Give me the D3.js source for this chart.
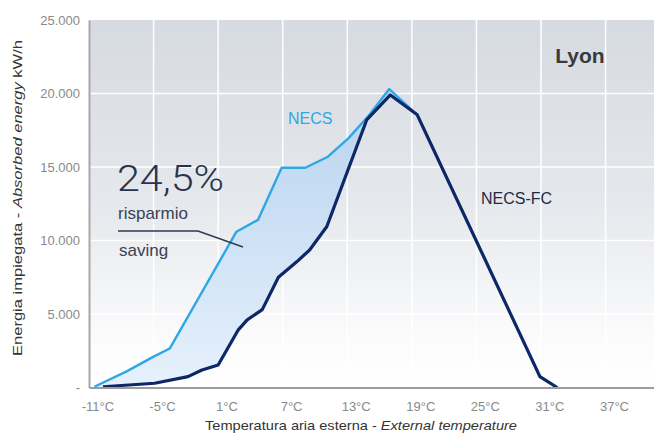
<!DOCTYPE html>
<html>
<head>
<meta charset="utf-8">
<script src="https://cdn.jsdelivr.net/npm/d3@7"></script>
<style>
  html, body { margin: 0; padding: 0; background: #fff; }
  svg { display: block; font-family: "Liberation Sans", Arial, sans-serif; }
</style>
</head>
<body>
<svg id="chart" width="654" height="434"></svg>
<script>
// Outdoor temperature (°C) and absorbed energy (kWh) for each unit
const tempNECS = [-11, -8, -5.5, -4, 2.2, 4.2, 6.4, 8.6, 10.7, 12.6, 14.5, 16.4, 19, 30.4, 32];
const valNECS  = [50, 1100, 2100, 2650, 10600, 11400, 14950, 14950, 15700, 16950, 18500, 20300, 18550, 740, 0];

const tempFC = [-10.2, -5.4, -2.3, -1, 0.5, 2.35, 3.2, 4.6, 6.1, 7.8, 9, 10.6, 14.3, 16.5, 19, 30.4, 32];
const valFC  = [50, 290, 740, 1190, 1530, 3900, 4600, 5300, 7500, 8550, 9350, 10950, 18200, 19900, 18550, 740, 0];

const xTicks = [-11, -5, 1, 7, 13, 19, 25, 31, 37];
const yTicks = [0, 5000, 10000, 15000, 20000, 25000];
const savingLabel = "24,5%";

const svg = d3.select("#chart");
const pLeft = 89, pRight = 654, pTop = 20, pBottom = 387.5;

const x = d3.scaleLinear().domain([-11.5, 41]).range([pLeft, pRight]);
const y = d3.scaleLinear().domain([0, 25000]).range([pBottom, pTop]);

const defs = svg.append("defs");
const bg = defs.append("linearGradient").attr("id", "bg")
  .attr("x1", 0).attr("y1", 0).attr("x2", 0).attr("y2", 1);
bg.append("stop").attr("offset", "0%").attr("stop-color", "#d6dae1");
bg.append("stop").attr("offset", "50%").attr("stop-color", "#e5e8ec");
bg.append("stop").attr("offset", "86%").attr("stop-color", "#fbfbfc");
bg.append("stop").attr("offset", "100%").attr("stop-color", "#ffffff");

const fillGrad = defs.append("linearGradient").attr("id", "gap")
  .attr("gradientUnits", "userSpaceOnUse")
  .attr("x1", 0).attr("y1", y(20000)).attr("x2", 0).attr("y2", y(0));
fillGrad.append("stop").attr("offset", "0%").attr("stop-color", "#b8d3ef");
fillGrad.append("stop").attr("offset", "100%").attr("stop-color", "#e6f1fc");

// plot background
svg.append("rect")
  .attr("x", pLeft).attr("y", pTop)
  .attr("width", pRight - pLeft).attr("height", pBottom - pTop)
  .attr("fill", "url(#bg)");

// grid
const grid = svg.append("g").attr("stroke", "#ffffff").attr("stroke-width", 1.5);
grid.selectAll("line.h").data(yTicks.filter(d => d > 0 && d < 25000)).join("line")
  .attr("class", "h")
  .attr("x1", pLeft).attr("x2", pRight)
  .attr("y1", d => y(d)).attr("y2", d => y(d));
grid.selectAll("line.v").data(xTicks.slice(1)).join("line")
  .attr("class", "v")
  .attr("x1", d => x(d - 0.5)).attr("x2", d => x(d - 0.5))
  .attr("y1", pTop).attr("y2", pBottom);

// shaded saving area between the two curves (up to the peak)
const peakN = valNECS.indexOf(d3.max(valNECS));
const peakF = valFC.indexOf(d3.max(valFC));
const upper = tempNECS.slice(0, peakN + 1).map((t, i) => [t, valNECS[i]]);
const lower = tempFC.slice(0, peakF + 1).map((t, i) => [t, valFC[i]]).reverse();
const line = d3.line().x(d => x(d[0])).y(d => y(d[1]));
svg.append("path")
  .attr("d", line(upper.concat(lower)) + "Z")
  .attr("fill", "url(#gap)");

// series
svg.append("path")
  .attr("d", line(tempNECS.map((t, i) => [t, valNECS[i]])))
  .attr("fill", "none").attr("stroke", "#2fa6e6").attr("stroke-width", 2.4)
  .attr("stroke-linejoin", "round");
svg.append("path")
  .attr("d", line(tempFC.map((t, i) => [t, valFC[i]])))
  .attr("fill", "none").attr("stroke", "#0e2766").attr("stroke-width", 3.2)
  .attr("stroke-linejoin", "round");

// axes
const it = d3.formatLocale({ decimal: ",", thousands: ".", grouping: [3], currency: ["", ""] });
const fmt = it.format(",");

const yAxis = svg.append("g").attr("transform", `translate(${pLeft},0)`)
  .call(d3.axisLeft(y).tickValues(yTicks).tickSize(0).tickPadding(9)
    .tickFormat(d => d === 0 ? "-" : fmt(d)));
yAxis.select(".domain").attr("stroke", "#a8a8a8").attr("stroke-width", 2);
yAxis.selectAll("text").attr("fill", "#8a8a8a").attr("font-size", 13).style("font-family", "Liberation Sans, Arial, sans-serif");

const xAxis = svg.append("g").attr("transform", `translate(0,${pBottom})`)
  .call(d3.axisBottom(x).tickValues(xTicks).tickSize(0).tickPadding(14)
    .tickFormat(d => d + "°C"));
xAxis.select(".domain").attr("stroke", "#9c9c9c").attr("stroke-width", 2);
xAxis.selectAll("text").attr("fill", "#8a8a8a").attr("font-size", 13)
  .attr("dx", 3).style("font-family", "Liberation Sans, Arial, sans-serif");

// axis titles
const xt = svg.append("text").attr("x", 361).attr("y", 430).attr("text-anchor", "middle")
  .attr("fill", "#333").attr("font-size", 13)
  .attr("textLength", 312).attr("lengthAdjust", "spacingAndGlyphs");
xt.append("tspan").text("Temperatura aria esterna - ");
xt.append("tspan").attr("font-style", "italic").text("External temperature");

const yt = svg.append("text")
  .attr("transform", "translate(22,198) rotate(-90)")
  .attr("text-anchor", "middle").attr("fill", "#333").attr("font-size", 13)
  .attr("textLength", 316).attr("lengthAdjust", "spacingAndGlyphs");
yt.append("tspan").text("Energia impiegata - ");
yt.append("tspan").attr("font-style", "italic").text("Absorbed energy");
yt.append("tspan").text("  kW/h");

// labels
svg.append("text").attr("x", 580).attr("y", 63).attr("text-anchor", "middle")
  .attr("font-size", 21).attr("font-weight", "bold").attr("fill", "#3a3a3a").text("Lyon");
svg.append("text").attr("x", 288).attr("y", 124)
  .attr("font-size", 16).attr("fill", "#2fa6e6").text("NECS");
svg.append("text").attr("x", 481).attr("y", 204)
  .attr("font-size", 16).attr("fill", "#1f2b44").text("NECS-FC");

svg.append("text").attr("x", 117).attr("y", 191)
  .attr("font-size", 37).attr("font-family", "Roboto, Liberation Sans, sans-serif")
  .attr("font-weight", 300).attr("fill", "#26344f")
  .attr("textLength", 107).attr("lengthAdjust", "spacingAndGlyphs").text(savingLabel);
svg.append("text").attr("x", 118).attr("y", 219)
  .attr("font-size", 17).attr("fill", "#3a4255").text("risparmio");
svg.append("text").attr("x", 119).attr("y", 256)
  .attr("font-size", 17).attr("fill", "#3a4255").text("saving");
svg.append("path")
  .attr("d", "M118,231 L198,231 L243,247")
  .attr("fill", "none").attr("stroke", "#2f3a50").attr("stroke-width", 1.5);
</script>
</body>
</html>
